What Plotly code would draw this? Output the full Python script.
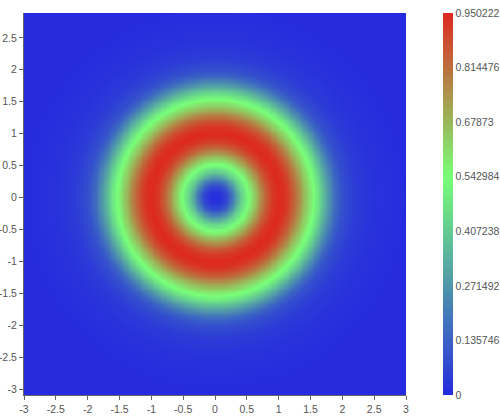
import numpy as np
import plotly.graph_objects as go

# Radial profile (value vs. distance from origin)
radius = [0.0, 0.1, 0.2, 0.3, 0.4, 0.5, 0.6, 0.7, 0.8, 0.9, 1.0, 1.1, 1.2, 1.3,
          1.4, 1.5, 1.6, 1.7, 1.8, 1.9, 2.0, 2.2, 2.5, 3.0, 4.5]
value = [0.0, 0.02, 0.09, 0.24, 0.41, 0.52, 0.62, 0.74, 0.85, 0.92, 0.950222, 0.93,
         0.87, 0.78, 0.67, 0.58, 0.49, 0.37, 0.25, 0.15, 0.09, 0.04, 0.015, 0.0, 0.0]

x_ticks = [-3, -2.5, -2, -1.5, -1, -0.5, 0, 0.5, 1, 1.5, 2, 2.5, 3]
y_ticks = [-3, -2.5, -2, -1.5, -1, -0.5, 0, 0.5, 1, 1.5, 2, 2.5]
cbar_ticks = [0, 0.135746, 0.271492, 0.407238, 0.542984, 0.67873, 0.814476, 0.950222]

zmin, zmax = 0.0, 0.950222

xs = np.linspace(-3, 3, 161)
ys = np.linspace(-3.1, 2.9, 161)
X, Y = np.meshgrid(xs, ys)
Z = np.interp(np.hypot(X, Y), radius, value)

def fmt(v):
    return "%g" % v

colorscale = [
    [0.0, "rgb(38,44,222)"],
    [0.571, "rgb(120,255,120)"],
    [1.0, "rgb(222,40,32)"],
]

fig = go.Figure(go.Heatmap(
    x=xs, y=ys, z=Z, zmin=zmin, zmax=zmax, zsmooth="best",
    colorscale=colorscale,
    colorbar=dict(
        x=1.097, xanchor="left", xref="paper",
        y=0.5, yanchor="middle", len=1.0, lenmode="fraction",
        thickness=10, outlinewidth=0, xpad=0, ypad=0,
        tickvals=cbar_ticks, ticktext=[fmt(v) for v in cbar_ticks],
        ticks="", ticklabelposition="outside",
        tickfont=dict(family="Liberation Sans, Arial", size=10.5, color="#555"),
    ),
))

axis_font = dict(family="Liberation Sans, Arial", size=10.5, color="#555")
fig.update_xaxes(
    range=[-3, 3], tickvals=x_ticks, ticktext=[fmt(v) for v in x_ticks],
    ticks="outside", ticklen=4, tickcolor="#666", tickfont=axis_font,
    showgrid=False, zeroline=False, showline=True, linecolor="#666", linewidth=1,
    automargin=False,
)
fig.update_yaxes(
    range=[-3.094, 2.89], tickvals=y_ticks, ticktext=[fmt(v) for v in y_ticks],
    ticks="outside", ticklen=4, tickcolor="#666", tickfont=axis_font,
    showgrid=False, zeroline=False, showline=True, linecolor="#666", linewidth=1,
    automargin=False,
)
fig.update_layout(
    width=500, height=417,
    margin=dict(l=24, r=94, t=13, b=22, autoexpand=False),
    paper_bgcolor="white", plot_bgcolor="white",
)
fig.write_html(
    "out.html",
    config={"displayModeBar": False},
    post_script="document.body.style.margin='0';document.body.style.overflow='hidden';",
)
